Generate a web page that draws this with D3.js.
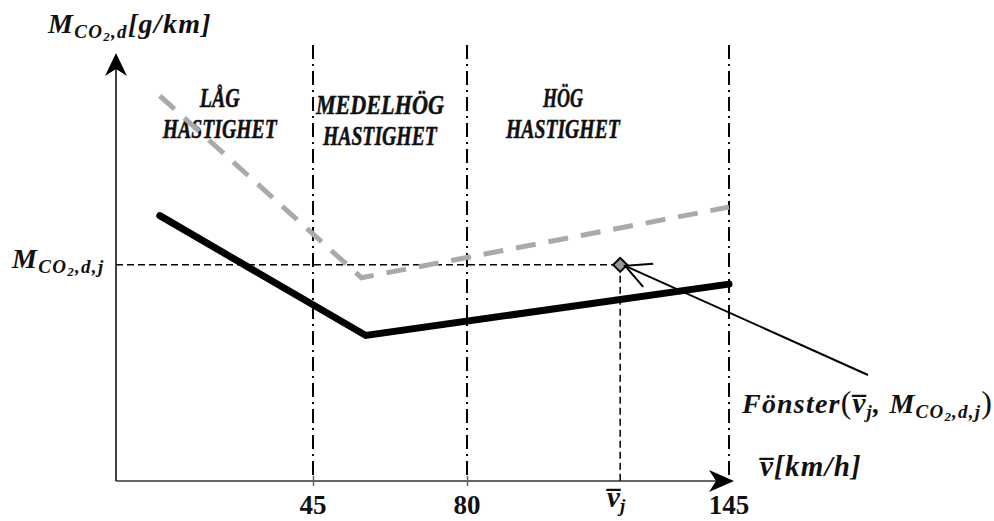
<!DOCTYPE html>
<html>
<head>
<meta charset="utf-8">
<script src="https://cdn.jsdelivr.net/npm/d3@7"></script>
<style>
  body { margin: 0; background: #fff; }
  text { font-family: "Liberation Serif", "DejaVu Serif", serif; font-weight: bold; fill: #111; }
</style>
</head>
<body>
<div id="chart"></div>
<script>
var width = 994,
    height = 521;

// speed breakpoints (km/h) and emission values (relative units)
var zoneBounds = [45, 80, 145];
var tickLabels = ["45", "80", "145"];
var zoneNames = [["LÅG", "HASTIGHET"], ["MEDELHÖG", "HASTIGHET"], ["HÖG", "HASTIGHET"]];
var zoneCenters = [23.7, 60.2, 103.8];
var lowSpeeds = [10, 57, 145];
var lowValues = [62, 34, 46];
var highSpeeds = [10, 56, 145];
var highValues = [90, 47.5, 64];
var vj = 118;
var mj = 50.5;

var svg = d3.select("#chart")
    .append("svg")
        .attr("width", width)
        .attr("height", height);

svg.append("rect").attr("width", width).attr("height", height).attr("fill", "#fff");

// speed axis is not drawn to scale in the original, so piecewise
var x = d3.scaleLinear()
    .domain([0, 45, 80, 145])
    .range([116, 313, 467, 729]);

var y = d3.scaleLinear()
    .domain([0, 100])
    .range([481, 53]);

var line = d3.line()
    .x(function(d) { return x(d[0]); })
    .y(function(d) { return y(d[1]); });

// zone separators (dash-dot)
svg.selectAll(".zone")
    .data(zoneBounds)
    .enter()
    .append("line")
    .attr("x1", function(d) { return x(d); })
    .attr("x2", function(d) { return x(d); })
    .attr("y1", 45)
    .attr("y2", y(0))
    .attr("stroke", "#000")
    .attr("stroke-width", 2)
    .attr("stroke-dasharray", "14,5,2,5");

// zone titles (narrow heavy face in the original -> squeeze with textLength)
var firstLen = [40, 128, 40];
zoneNames.forEach(function(z, i) {
    var top = i == 1 ? 114 : 107;
    svg.append("text")
        .attr("x", x(zoneCenters[i]))
        .attr("y", top)
        .attr("text-anchor", "middle")
        .attr("textLength", firstLen[i])
        .attr("lengthAdjust", "spacingAndGlyphs")
        .attr("stroke", "#111").attr("stroke-width", 0.5)
        .style("font-style", "italic")
        .style("font-size", "28px")
        .text(z[0]);
    svg.append("text")
        .attr("x", x(zoneCenters[i]))
        .attr("y", top + 31)
        .attr("text-anchor", "middle")
        .attr("textLength", 114)
        .attr("lengthAdjust", "spacingAndGlyphs")
        .attr("stroke", "#111").attr("stroke-width", 0.5)
        .style("font-style", "italic")
        .style("font-size", "28px")
        .text(z[1]);
});

// x axis
var xAxis = svg.append("g")
    .attr("transform", "translate(0," + y(0) + ")")
    .call(d3.axisBottom(x).tickValues([45, 80]).tickSize(5).tickFormat(""));
xAxis.select(".domain").remove();
xAxis.selectAll(".tick line").attr("y1", -5).attr("stroke", "#666").attr("stroke-width", 1.5);

svg.append("line")
    .attr("x1", x(0)).attr("x2", 728)
    .attr("y1", y(0)).attr("y2", y(0))
    .attr("stroke", "#666").attr("stroke-width", 2);
svg.append("path")
    .attr("d", "M734," + y(0) + " L709," + (y(0) - 11) + " L716," + y(0) + " L709," + (y(0) + 11) + " Z")
    .attr("fill", "#000");

svg.selectAll(".tlab")
    .data(zoneBounds)
    .enter()
    .append("text")
    .attr("class", "tlab")
    .attr("x", function(d) { return x(d); })
    .attr("y", 514)
    .attr("text-anchor", "middle")
    .style("font-size", "27px")
    .text(function(d, i) { return tickLabels[i]; });

// y axis
svg.append("line")
    .attr("x1", x(0)).attr("x2", x(0))
    .attr("y1", 62).attr("y2", y(0))
    .attr("stroke", "#000").attr("stroke-width", 1.5);
svg.append("path")
    .attr("d", "M116,53 L105,76 L116,69 L127,76 Z")
    .attr("fill", "#000");

// reference lines to the window point
svg.append("line")
    .attr("x1", x(0)).attr("x2", x(vj))
    .attr("y1", y(mj)).attr("y2", y(mj))
    .attr("stroke", "#000").attr("stroke-width", 1.5)
    .attr("stroke-dasharray", "7,4");
svg.append("line")
    .attr("x1", x(vj)).attr("x2", x(vj))
    .attr("y1", y(mj)).attr("y2", y(0))
    .attr("stroke", "#000").attr("stroke-width", 1.5)
    .attr("stroke-dasharray", "7,4");

// curves
svg.append("path")
    .datum(d3.zip(highSpeeds, highValues))
    .attr("d", line)
    .attr("fill", "none")
    .attr("stroke", "#aaa")
    .attr("stroke-width", 5)
    .attr("stroke-dasharray", "20,13");

svg.append("path")
    .datum(d3.zip(lowSpeeds, lowValues))
    .attr("d", line)
    .attr("fill", "none")
    .attr("stroke", "#000")
    .attr("stroke-width", 7)
    .attr("stroke-linecap", "round");

// window marker
var px = x(vj), py = y(mj);
svg.append("path")
    .attr("d", "M" + px + "," + (py - 7) + " L" + (px + 7) + "," + py + " L" + px + "," + (py + 7) + " L" + (px - 7) + "," + py + " Z")
    .attr("fill", "#999")
    .attr("stroke", "#000")
    .attr("stroke-width", 2);

// annotation arrow
var ax = px + 5, ay = py + 1;
svg.append("line")
    .attr("x1", 868).attr("y1", 375)
    .attr("x2", ax).attr("y2", ay)
    .attr("stroke", "#000").attr("stroke-width", 2);
svg.append("path")
    .attr("d", "M" + (ax + 28) + "," + (ay - 2) + " L" + ax + "," + ay + " L" + (ax + 18) + "," + (ay + 21))
    .attr("fill", "none")
    .attr("stroke", "#000").attr("stroke-width", 2);

// math labels
var big = "28px", sub = "19px", sub2 = "13px";
function mco2(t, extra) {
    t.append("tspan").style("font-size", big).text("M");
    t.append("tspan").style("font-size", sub).attr("dy", 5).text("CO");
    t.append("tspan").style("font-size", sub2).attr("dy", 3).text("2");
    t.append("tspan").style("font-size", sub).attr("dy", -3).text(",d" + extra);
}

var ylab = svg.append("text")
    .attr("x", 48).attr("y", 33)
    .style("letter-spacing", "1.3px")
    .style("font-style", "italic");
mco2(ylab, "");
ylab.append("tspan").style("font-size", big).attr("dy", -5).text("[g/km]");

var mjlab = svg.append("text")
    .attr("x", 12).attr("y", 268)
    .style("letter-spacing", "1.3px")
    .style("font-style", "italic");
mco2(mjlab, ",j");

var xlab = svg.append("text")
    .attr("x", 760).attr("y", 476)
    .style("letter-spacing", "1.2px")
    .style("font-style", "italic")
    .style("font-size", "29px");
xlab.append("tspan").text("v\u0305");
xlab.append("tspan").text("[km/h]");

var vlab = svg.append("text")
    .attr("x", 607).attr("y", 507)
    .style("font-style", "italic");
vlab.append("tspan").style("font-size", "29px").text("v\u0305");
vlab.append("tspan").style("font-size", sub).attr("dy", 5).text("j");

var flab = svg.append("text")
    .attr("x", 742).attr("y", 413)
    .style("letter-spacing", "1.2px")
    .style("font-style", "italic");
flab.append("tspan").style("font-size", big).text("Fönster");
flab.append("tspan").style("font-size", "32px").style("font-style", "normal").style("font-weight", "normal").text("(");
flab.append("tspan").style("font-size", "29px").text("v\u0305");
flab.append("tspan").style("font-size", sub).attr("dy", 5).text("j");
flab.append("tspan").style("font-size", big).attr("dy", -5).text(", ");
mco2(flab, ",j");
flab.append("tspan").style("font-size", "32px").style("font-style", "normal").style("font-weight", "normal").attr("dy", -5).text(")");
</script>
</body>
</html>
